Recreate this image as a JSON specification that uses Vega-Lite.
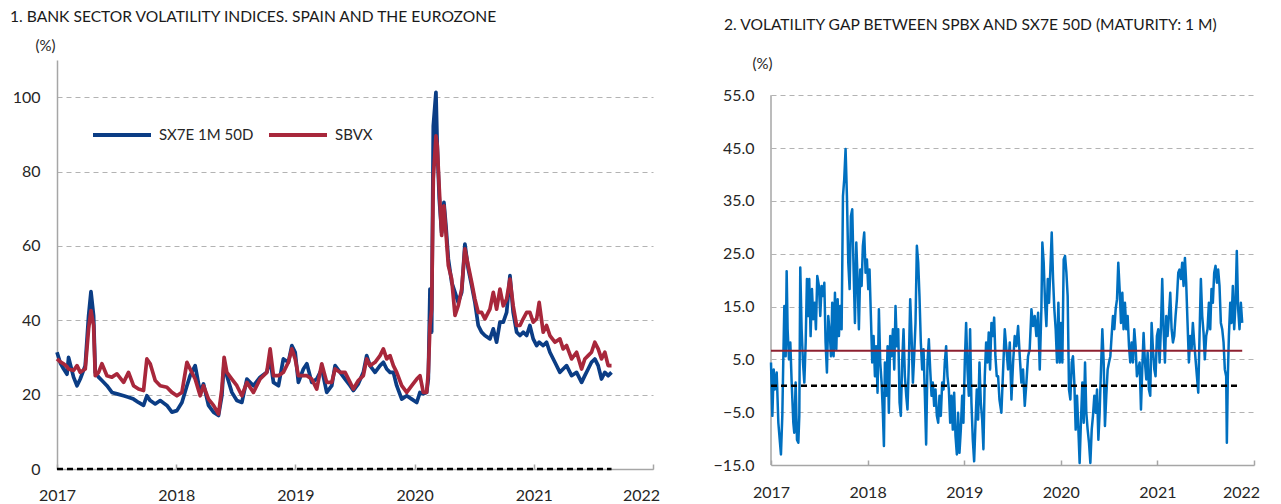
{
"$schema":"https://vega.github.io/schema/vega-lite/v6.json",
"background":"white",
"padding":{"left":10,"top":10,"right":5,"bottom":5},
"bounds":"flush",
"spacing":118,
"config":{
 "font":"Lato",
 "view":{"stroke":null},
 "axis":{"labelFont":"Lato","labelFontSize":16,"labelColor":"#262626","domainColor":"#a6a6a6","domainWidth":1.5,"tickColor":"#a6a6a6","tickWidth":1.5,"gridColor":"#b3b3b3","gridDash":[5,4],"gridWidth":1,"titleFont":"Lato","titleFontWeight":"normal","titleFontSize":15,"titleColor":"#262626"},
 "title":{"font":"Lato","fontSize":15.6,"fontWeight":"normal","color":"#1a1a1a","anchor":"start","frame":"group"}
},
"datasets":{
"idx":[
{"t":2017.000,"sx7e":31.4,"sbvx":29.6},{"t":2017.028,"sx7e":28.5,"sbvx":28.8},{"t":2017.056,"sx7e":26.9,"sbvx":28.3},{"t":2017.084,"sx7e":25.5,"sbvx":27.5},{"t":2017.097,"sx7e":30.0,"sbvx":26.9},{"t":2017.139,"sx7e":24.7,"sbvx":26.5},{"t":2017.168,"sx7e":22.4,"sbvx":27.8},{"t":2017.195,"sx7e":24.2,"sbvx":26.0},{"t":2017.237,"sx7e":27.8,"sbvx":26.9},{"t":2017.265,"sx7e":41.2,"sbvx":37.7},{"t":2017.285,"sx7e":47.7,"sbvx":42.6},{"t":2017.307,"sx7e":41.2,"sbvx":38.6},{"t":2017.321,"sx7e":26.0,"sbvx":25.1},{"t":2017.349,"sx7e":24.7,"sbvx":26.0},{"t":2017.377,"sx7e":23.8,"sbvx":28.3},{"t":2017.419,"sx7e":22.4,"sbvx":25.1},{"t":2017.461,"sx7e":20.6,"sbvx":24.7},{"t":2017.503,"sx7e":20.2,"sbvx":25.6},{"t":2017.559,"sx7e":19.7,"sbvx":23.3},{"t":2017.600,"sx7e":19.3,"sbvx":26.0},{"t":2017.642,"sx7e":18.8,"sbvx":22.4},{"t":2017.684,"sx7e":17.9,"sbvx":21.5},{"t":2017.726,"sx7e":17.1,"sbvx":21.1},{"t":2017.754,"sx7e":19.7,"sbvx":29.6},{"t":2017.782,"sx7e":18.4,"sbvx":28.3},{"t":2017.824,"sx7e":17.5,"sbvx":23.8},{"t":2017.866,"sx7e":18.4,"sbvx":22.4},{"t":2017.922,"sx7e":17.1,"sbvx":22.0},{"t":2017.964,"sx7e":15.3,"sbvx":20.6},{"t":2018.006,"sx7e":15.7,"sbvx":19.7},{"t":2018.048,"sx7e":17.9,"sbvx":20.6},{"t":2018.090,"sx7e":22.4,"sbvx":28.7},{"t":2018.117,"sx7e":25.1,"sbvx":26.9},{"t":2018.159,"sx7e":27.8,"sbvx":24.2},{"t":2018.201,"sx7e":20.6,"sbvx":19.7},{"t":2018.229,"sx7e":22.9,"sbvx":22.4},{"t":2018.271,"sx7e":17.1,"sbvx":18.8},{"t":2018.313,"sx7e":15.3,"sbvx":17.1},{"t":2018.355,"sx7e":14.4,"sbvx":14.8},{"t":2018.383,"sx7e":19.7,"sbvx":21.5},{"t":2018.402,"sx7e":28.7,"sbvx":30.0},{"t":2018.425,"sx7e":25.1,"sbvx":26.0},{"t":2018.467,"sx7e":20.6,"sbvx":24.2},{"t":2018.509,"sx7e":18.4,"sbvx":22.4},{"t":2018.551,"sx7e":17.9,"sbvx":19.7},{"t":2018.593,"sx7e":24.2,"sbvx":23.3},{"t":2018.648,"sx7e":22.4,"sbvx":20.6},{"t":2018.704,"sx7e":24.7,"sbvx":24.2},{"t":2018.760,"sx7e":26.0,"sbvx":26.0},{"t":2018.788,"sx7e":29.6,"sbvx":32.3},{"t":2018.816,"sx7e":23.3,"sbvx":25.1},{"t":2018.858,"sx7e":22.4,"sbvx":25.1},{"t":2018.899,"sx7e":29.6,"sbvx":26.0},{"t":2018.941,"sx7e":28.7,"sbvx":28.7},{"t":2018.970,"sx7e":33.2,"sbvx":32.3},{"t":2018.998,"sx7e":31.4,"sbvx":29.6},{"t":2019.025,"sx7e":23.3,"sbvx":25.1},{"t":2019.067,"sx7e":26.9,"sbvx":25.1},{"t":2019.096,"sx7e":28.3,"sbvx":25.1},{"t":2019.137,"sx7e":23.3,"sbvx":24.2},{"t":2019.179,"sx7e":24.2,"sbvx":21.5},{"t":2019.221,"sx7e":26.9,"sbvx":28.3},{"t":2019.263,"sx7e":20.6,"sbvx":23.3},{"t":2019.305,"sx7e":22.4,"sbvx":23.3},{"t":2019.333,"sx7e":27.8,"sbvx":26.9},{"t":2019.375,"sx7e":26.0,"sbvx":26.0},
{"t":2019.417,"sx7e":24.2,"sbvx":26.0},{"t":2019.459,"sx7e":22.4,"sbvx":23.3},{"t":2019.486,"sx7e":21.1,"sbvx":21.5},{"t":2019.528,"sx7e":22.9,"sbvx":23.8},{"t":2019.570,"sx7e":26.0,"sbvx":25.1},{"t":2019.598,"sx7e":30.5,"sbvx":29.6},{"t":2019.626,"sx7e":27.8,"sbvx":27.8},{"t":2019.668,"sx7e":26.0,"sbvx":28.7},{"t":2019.710,"sx7e":27.8,"sbvx":30.5},{"t":2019.738,"sx7e":28.7,"sbvx":32.3},{"t":2019.766,"sx7e":26.9,"sbvx":29.6},{"t":2019.794,"sx7e":26.0,"sbvx":30.5},{"t":2019.822,"sx7e":26.0,"sbvx":27.8},{"t":2019.850,"sx7e":22.4,"sbvx":26.0},{"t":2019.892,"sx7e":18.8,"sbvx":22.4},{"t":2019.934,"sx7e":19.7,"sbvx":20.6},{"t":2019.976,"sx7e":18.8,"sbvx":22.4},{"t":2020.018,"sx7e":17.9,"sbvx":24.2},{"t":2020.045,"sx7e":20.6,"sbvx":25.1},{"t":2020.073,"sx7e":20.2,"sbvx":20.6},{"t":2020.101,"sx7e":20.6,"sbvx":20.6},{"t":2020.115,"sx7e":24.2,"sbvx":26.0},{"t":2020.129,"sx7e":48.4,"sbvx":38.6},{"t":2020.143,"sx7e":36.8,"sbvx":43.0},{"t":2020.157,"sx7e":92.3,"sbvx":78.0},{"t":2020.179,"sx7e":101.3,"sbvx":89.6},{"t":2020.190,"sx7e":87.0,"sbvx":87.0},{"t":2020.207,"sx7e":72.6,"sbvx":75.3},{"t":2020.227,"sx7e":63.6,"sbvx":62.8},{"t":2020.246,"sx7e":71.7,"sbvx":70.8},{"t":2020.263,"sx7e":65.4,"sbvx":63.6},{"t":2020.283,"sx7e":56.5,"sbvx":54.7},{"t":2020.311,"sx7e":50.2,"sbvx":51.1},{"t":2020.339,"sx7e":47.5,"sbvx":41.3},{"t":2020.366,"sx7e":44.8,"sbvx":43.9},{"t":2020.395,"sx7e":47.5,"sbvx":48.4},{"t":2020.422,"sx7e":60.5,"sbvx":59.2},{"t":2020.450,"sx7e":53.8,"sbvx":54.7},{"t":2020.479,"sx7e":49.3,"sbvx":50.2},{"t":2020.506,"sx7e":44.8,"sbvx":45.7},{"t":2020.534,"sx7e":38.6,"sbvx":42.1},{"t":2020.562,"sx7e":36.8,"sbvx":42.1},{"t":2020.590,"sx7e":35.9,"sbvx":40.4},{"t":2020.632,"sx7e":35.0,"sbvx":43.0},{"t":2020.660,"sx7e":37.7,"sbvx":47.5},{"t":2020.688,"sx7e":34.1,"sbvx":43.0},{"t":2020.716,"sx7e":39.5,"sbvx":48.4},{"t":2020.744,"sx7e":39.5,"sbvx":43.9},{"t":2020.772,"sx7e":42.1,"sbvx":45.7},{"t":2020.800,"sx7e":52.0,"sbvx":51.1},{"t":2020.827,"sx7e":42.1,"sbvx":43.9},{"t":2020.856,"sx7e":36.8,"sbvx":38.6},{"t":2020.884,"sx7e":35.9,"sbvx":38.6},{"t":2020.911,"sx7e":36.8,"sbvx":40.4},{"t":2020.940,"sx7e":35.9,"sbvx":42.1},{"t":2020.967,"sx7e":38.6,"sbvx":42.1},{"t":2020.995,"sx7e":35.0,"sbvx":39.5},{"t":2021.024,"sx7e":33.2,"sbvx":40.4},{"t":2021.045,"sx7e":34.1,"sbvx":44.8},{"t":2021.079,"sx7e":33.2,"sbvx":36.8},{"t":2021.107,"sx7e":34.1,"sbvx":38.6},{"t":2021.135,"sx7e":31.4,"sbvx":35.9},{"t":2021.177,"sx7e":28.7,"sbvx":34.1},{"t":2021.219,"sx7e":26.0,"sbvx":35.0},{"t":2021.246,"sx7e":26.9,"sbvx":32.3},{"t":2021.275,"sx7e":27.8,"sbvx":33.2},{"t":2021.317,"sx7e":25.1,"sbvx":29.6},{"t":2021.359,"sx7e":26.0,"sbvx":31.4},{"t":2021.401,"sx7e":23.3,"sbvx":26.9},{"t":2021.428,"sx7e":25.1,"sbvx":29.6},{"t":2021.456,"sx7e":26.9,"sbvx":30.5},{"t":2021.484,"sx7e":28.7,"sbvx":31.4},{"t":2021.512,"sx7e":29.6,"sbvx":34.1},{"t":2021.540,"sx7e":27.8,"sbvx":32.3},{"t":2021.568,"sx7e":24.2,"sbvx":29.6},{"t":2021.596,"sx7e":26.0,"sbvx":31.4},{"t":2021.624,"sx7e":25.1,"sbvx":27.8},{"t":2021.652,"sx7e":26.0,"sbvx":27.8}
],
"gap":[
{"t":2017.000,"v":4.4},{"t":2017.014,"v":-5.7},{"t":2017.028,"v":3.1},{"t":2017.041,"v":-0.7},{"t":2017.059,"v":2.5},{"t":2017.076,"v":-7.0},{"t":2017.093,"v":-10.8},{"t":2017.103,"v":-13.0},{"t":2017.117,"v":-5.7},{"t":2017.128,"v":5.6},{"t":2017.138,"v":15.1},{"t":2017.152,"v":5.6},{"t":2017.162,"v":21.7},{"t":2017.172,"v":10.7},{"t":2017.186,"v":5.0},{"t":2017.200,"v":8.2},{"t":2017.214,"v":0.6},{"t":2017.231,"v":-7.0},{"t":2017.241,"v":-8.9},{"t":2017.255,"v":0.6},{"t":2017.269,"v":-10.2},{"t":2017.283,"v":-10.8},{"t":2017.293,"v":-5.7},{"t":2017.303,"v":22.4},{"t":2017.317,"v":10.7},{"t":2017.331,"v":4.4},{"t":2017.345,"v":0.6},{"t":2017.359,"v":8.2},{"t":2017.372,"v":20.2},{"t":2017.386,"v":13.2},{"t":2017.396,"v":20.2},{"t":2017.410,"v":9.4},{"t":2017.424,"v":18.3},{"t":2017.438,"v":12.6},{"t":2017.452,"v":15.7},{"t":2017.465,"v":10.7},{"t":2017.479,"v":20.8},{"t":2017.496,"v":18.9},{"t":2017.510,"v":13.2},{"t":2017.524,"v":18.9},{"t":2017.538,"v":17.0},{"t":2017.552,"v":19.5},{"t":2017.565,"v":8.2},{"t":2017.579,"v":2.5},{"t":2017.593,"v":13.2},{"t":2017.610,"v":9.4},{"t":2017.621,"v":5.6},{"t":2017.634,"v":15.7},{"t":2017.648,"v":5.6},{"t":2017.662,"v":17.6},{"t":2017.676,"v":6.9},{"t":2017.690,"v":16.4},{"t":2017.703,"v":9.4},{"t":2017.717,"v":15.1},{"t":2017.731,"v":10.7},{"t":2017.745,"v":35.9},{"t":2017.758,"v":39.1},{"t":2017.772,"v":44.8},{"t":2017.786,"v":35.9},{"t":2017.800,"v":23.3},{"t":2017.814,"v":18.3},{"t":2017.827,"v":32.1},{"t":2017.841,"v":33.4},{"t":2017.855,"v":22.0},{"t":2017.869,"v":11.9},{"t":2017.883,"v":27.1},{"t":2017.896,"v":20.2},{"t":2017.910,"v":10.7},{"t":2017.924,"v":22.0},{"t":2017.938,"v":18.9},{"t":2017.951,"v":26.5},{"t":2017.965,"v":29.0},{"t":2017.979,"v":21.4},{"t":2017.993,"v":23.9},{"t":2018.007,"v":18.3},{"t":2018.020,"v":22.0},{"t":2018.034,"v":13.2},{"t":2018.048,"v":4.4},{"t":2018.062,"v":9.4},{"t":2018.076,"v":1.8},{"t":2018.089,"v":7.5},{"t":2018.103,"v":-1.3},{"t":2018.117,"v":14.5},{"t":2018.131,"v":4.4},{"t":2018.145,"v":0.6},{"t":2018.158,"v":-5.1},{"t":2018.169,"v":-11.4},{"t":2018.179,"v":4.4},{"t":2018.193,"v":-1.9},{"t":2018.207,"v":7.5},{"t":2018.220,"v":-5.1},{"t":2018.234,"v":9.4},{"t":2018.248,"v":5.6},{"t":2018.262,"v":10.7},{"t":2018.276,"v":3.1},{"t":2018.289,"v":15.1},{"t":2018.303,"v":7.5},{"t":2018.317,"v":10.7},{"t":2018.331,"v":-3.2},{"t":2018.344,"v":-5.7},{"t":2018.358,"v":4.4},{"t":2018.372,"v":10.7},{"t":2018.386,"v":1.8},{"t":2018.400,"v":-1.9},{"t":2018.413,"v":-4.5},{"t":2018.427,"v":4.4},{"t":2018.441,"v":16.4},{"t":2018.455,"v":9.4},{"t":2018.469,"v":0.6},{"t":2018.482,"v":5.6},{"t":2018.496,"v":11.9},{"t":2018.510,"v":26.5},{"t":2018.524,"v":23.3},{"t":2018.537,"v":17.0},{"t":2018.551,"v":8.2},{"t":2018.565,"v":3.1},{"t":2018.579,"v":6.9},{"t":2018.593,"v":-1.9},{"t":2018.606,"v":-11.1},{"t":2018.620,"v":4.4},{"t":2018.634,"v":8.8},{"t":2018.648,"v":3.1},{"t":2018.662,"v":-1.9},{"t":2018.675,"v":0.6},{"t":2018.689,"v":-3.8},{"t":2018.703,"v":-0.7},{"t":2018.717,"v":-5.7},{"t":2018.731,"v":-7.0},{"t":2018.744,"v":-1.9},{"t":2018.758,"v":-5.7},{"t":2018.772,"v":0.6},{"t":2018.786,"v":-0.7},{"t":2018.799,"v":4.4},{"t":2018.813,"v":7.5},{"t":2018.827,"v":1.8},{"t":2018.841,"v":-0.7},{"t":2018.855,"v":-7.0},{"t":2018.868,"v":-1.9},{"t":2018.882,"v":-8.3},{"t":2018.896,"v":-1.3},{"t":2018.910,"v":-9.5},{"t":2018.924,"v":-13.0},{"t":2018.937,"v":-5.1},{"t":2018.951,"v":-12.7},{"t":2018.965,"v":-8.3},{"t":2018.979,"v":-1.9},{"t":2018.992,"v":-7.0},{"t":2019.006,"v":4.4},{"t":2019.020,"v":11.9},{"t":2019.034,"v":3.1},{"t":2019.048,"v":-1.9},{"t":2019.061,"v":10.7},{"t":2019.075,"v":-3.2},{"t":2019.089,"v":-10.2},{"t":2019.103,"v":-14.3},{"t":2019.117,"v":-7.0},{"t":2019.130,"v":-0.7},{"t":2019.144,"v":-6.4},{"t":2019.158,"v":4.4},{"t":2019.172,"v":-3.2},{"t":2019.186,"v":-6.4},{"t":2019.199,"v":-12.0},{"t":2019.213,"v":1.8},{"t":2019.227,"v":8.2},{"t":2019.241,"v":4.4},{"t":2019.254,"v":10.1},{"t":2019.268,"v":3.1},{"t":2019.282,"v":11.9},{"t":2019.296,"v":9.4},{"t":2019.310,"v":12.9},{"t":2019.323,"v":5.6},{"t":2019.337,"v":1.8},{"t":2019.351,"v":1.8},{"t":2019.365,"v":-2.6},
{"t":2019.385,"v":-5.1},{"t":2019.403,"v":3.1},{"t":2019.420,"v":10.7},{"t":2019.437,"v":6.9},{"t":2019.454,"v":3.1},{"t":2019.472,"v":8.2},{"t":2019.489,"v":-2.6},{"t":2019.506,"v":4.4},{"t":2019.523,"v":9.4},{"t":2019.540,"v":7.5},{"t":2019.558,"v":11.3},{"t":2019.575,"v":5.6},{"t":2019.592,"v":0.6},{"t":2019.609,"v":3.1},{"t":2019.627,"v":-3.8},{"t":2019.644,"v":0.6},{"t":2019.661,"v":5.6},{"t":2019.678,"v":6.9},{"t":2019.696,"v":14.5},{"t":2019.713,"v":11.3},{"t":2019.730,"v":13.2},{"t":2019.747,"v":9.4},{"t":2019.765,"v":13.8},{"t":2019.782,"v":3.1},{"t":2019.799,"v":14.5},{"t":2019.809,"v":27.1},{"t":2019.823,"v":23.3},{"t":2019.837,"v":15.7},{"t":2019.851,"v":11.3},{"t":2019.865,"v":20.2},{"t":2019.878,"v":15.7},{"t":2019.892,"v":22.0},{"t":2019.906,"v":29.0},{"t":2019.920,"v":20.2},{"t":2019.933,"v":14.5},{"t":2019.947,"v":10.7},{"t":2019.961,"v":4.4},{"t":2019.975,"v":15.7},{"t":2019.989,"v":4.4},{"t":2020.002,"v":11.9},{"t":2020.016,"v":4.4},{"t":2020.030,"v":23.9},{"t":2020.044,"v":24.6},{"t":2020.058,"v":21.4},{"t":2020.071,"v":17.0},{"t":2020.085,"v":-0.7},{"t":2020.099,"v":-2.6},{"t":2020.113,"v":4.4},{"t":2020.126,"v":5.6},{"t":2020.140,"v":0.6},{"t":2020.154,"v":-8.3},{"t":2020.168,"v":-1.9},{"t":2020.182,"v":-8.3},{"t":2020.195,"v":-14.6},{"t":2020.209,"v":-6.4},{"t":2020.223,"v":0.6},{"t":2020.237,"v":-7.0},{"t":2020.251,"v":4.4},{"t":2020.264,"v":-5.1},{"t":2020.278,"v":-8.3},{"t":2020.292,"v":-10.8},{"t":2020.306,"v":-14.6},{"t":2020.320,"v":-8.3},{"t":2020.333,"v":-5.7},{"t":2020.347,"v":-1.9},{"t":2020.361,"v":-5.1},{"t":2020.375,"v":-0.7},{"t":2020.389,"v":-10.2},{"t":2020.402,"v":-5.1},{"t":2020.416,"v":3.1},{"t":2020.430,"v":10.7},{"t":2020.444,"v":4.4},{"t":2020.457,"v":-7.6},{"t":2020.471,"v":-1.9},{"t":2020.485,"v":3.1},{"t":2020.499,"v":4.4},{"t":2020.513,"v":5.6},{"t":2020.526,"v":9.4},{"t":2020.540,"v":13.2},{"t":2020.554,"v":10.7},{"t":2020.568,"v":14.5},{"t":2020.582,"v":16.4},{"t":2020.595,"v":23.3},{"t":2020.609,"v":18.3},{"t":2020.623,"v":11.9},{"t":2020.637,"v":17.6},{"t":2020.650,"v":10.7},{"t":2020.664,"v":15.7},{"t":2020.678,"v":10.7},{"t":2020.692,"v":13.2},{"t":2020.706,"v":7.5},{"t":2020.719,"v":4.4},{"t":2020.733,"v":8.2},{"t":2020.747,"v":4.4},{"t":2020.761,"v":10.7},{"t":2020.774,"v":7.5},{"t":2020.788,"v":1.8},{"t":2020.802,"v":3.1},{"t":2020.816,"v":4.4},{"t":2020.830,"v":-4.5},{"t":2020.843,"v":3.1},{"t":2020.857,"v":10.0},{"t":2020.871,"v":4.4},{"t":2020.885,"v":1.2},{"t":2020.899,"v":6.3},{"t":2020.912,"v":-0.7},{"t":2020.926,"v":-1.9},{"t":2020.940,"v":11.9},{"t":2020.954,"v":6.9},{"t":2020.968,"v":3.1},{"t":2020.981,"v":1.8},{"t":2020.995,"v":9.4},{"t":2021.009,"v":10.7},{"t":2021.023,"v":4.4},{"t":2021.036,"v":10.7},{"t":2021.050,"v":20.2},{"t":2021.064,"v":10.7},{"t":2021.078,"v":4.4},{"t":2021.092,"v":13.2},{"t":2021.105,"v":9.4},{"t":2021.119,"v":13.2},{"t":2021.133,"v":17.6},{"t":2021.147,"v":10.7},{"t":2021.161,"v":8.2},{"t":2021.174,"v":9.4},{"t":2021.188,"v":13.2},{"t":2021.202,"v":16.4},{"t":2021.216,"v":21.4},{"t":2021.229,"v":22.0},{"t":2021.243,"v":20.2},{"t":2021.257,"v":23.3},{"t":2021.271,"v":18.9},{"t":2021.285,"v":24.2},{"t":2021.298,"v":19.5},{"t":2021.312,"v":11.9},{"t":2021.326,"v":4.4},{"t":2021.340,"v":9.4},{"t":2021.354,"v":6.9},{"t":2021.367,"v":11.9},{"t":2021.381,"v":8.2},{"t":2021.395,"v":5.0},{"t":2021.409,"v":1.8},{"t":2021.423,"v":-1.3},{"t":2021.436,"v":9.4},{"t":2021.450,"v":20.2},{"t":2021.464,"v":13.2},{"t":2021.478,"v":10.0},{"t":2021.491,"v":5.0},{"t":2021.505,"v":9.4},{"t":2021.519,"v":10.7},{"t":2021.533,"v":15.7},{"t":2021.547,"v":10.7},{"t":2021.560,"v":18.3},{"t":2021.574,"v":15.7},{"t":2021.588,"v":21.4},{"t":2021.602,"v":22.7},{"t":2021.616,"v":19.5},{"t":2021.629,"v":22.0},{"t":2021.643,"v":18.9},{"t":2021.657,"v":11.9},{"t":2021.671,"v":10.7},{"t":2021.685,"v":8.2},{"t":2021.698,"v":3.1},{"t":2021.712,"v":1.8},{"t":2021.719,"v":-10.8},{"t":2021.729,"v":1.8},{"t":2021.740,"v":9.4},{"t":2021.754,"v":15.7},{"t":2021.767,"v":11.9},{"t":2021.781,"v":18.9},{"t":2021.795,"v":10.7},{"t":2021.809,"v":15.7},{"t":2021.822,"v":25.5},{"t":2021.836,"v":14.5},{"t":2021.850,"v":10.7},{"t":2021.864,"v":15.7},{"t":2021.878,"v":11.9}
]
},
"hconcat":[
{
 "width":596,"height":409,
 "title":{"text":"1. BANK SECTOR VOLATILITY INDICES. SPAIN AND THE EUROZONE","dx":-47,"offset":12},
 "layer":[
  {"data":{"name":"idx"},
   "transform":[{"fold":["sx7e","sbvx"],"as":["series","value"]}],
   "mark":{"type":"line","strokeWidth":3.7,"strokeJoin":"round"},
   "encoding":{
    "x":{"field":"t","type":"quantitative","scale":{"domain":[2017,2022],"nice":false,"zero":false},
         "axis":{"values":[2017,2018,2019,2020,2021,2022],"format":"d","title":null,"grid":false,"tickSize":-5,"labelPadding":23,"labelFlush":false,"labelOverlap":false,
                 "labelOffset":{"condition":{"test":"datum.value == 2022","value":-12},"value":0}}},
    "y":{"field":"value","type":"quantitative","scale":{"domain":[0,110],"nice":false},
         "axis":{"values":[0,20,40,60,80,100],"ticks":false,"labelPadding":17,"grid":true,"title":"(%)","titleAngle":0,"titleX":-12,"titleY":-15,"titleAlign":"center","titleBaseline":"middle"}},
    "color":{"field":"series","type":"nominal","scale":{"domain":["sx7e","sbvx"],"range":["#0b3d85","#a8273b"]},
         "legend":{"title":null,"orient":"none","legendX":34,"legendY":44,"direction":"horizontal","symbolType":"stroke","symbolStrokeWidth":4,"symbolSize":3364,"labelFontSize":15,"labelFont":"Lato","labelColor":"#262626","columnPadding":7,"labelOffset":6,
                   "labelExpr":"datum.label == 'sx7e' ? 'SX7E 1M 50D' : 'SBVX'"}}
   }},
  {"data":{"values":[{"t":2017,"value":0},{"t":2021.652,"value":0}]},
   "mark":{"type":"line","color":"#000000","strokeWidth":2.5,"strokeDash":[6,4]},
   "encoding":{"x":{"field":"t","type":"quantitative"},"y":{"field":"value","type":"quantitative"}}}
 ]
},
{
 "width":483,"height":405,
 "title":{"text":"2. VOLATILITY GAP BETWEEN SPBX AND SX7E 50D (MATURITY: 1 M)","dx":-47,"offset":22},
 "layer":[
  {"data":{"values":[{"t":2017,"v":-15,"v2":55}]},
   "mark":{"type":"rule","color":"#a6a6a6","strokeWidth":1.5},
   "encoding":{"x":{"field":"t","type":"quantitative"},"y":{"field":"v","type":"quantitative"},"y2":{"field":"v2"}}},
  {"data":{"name":"gap"},
   "mark":{"type":"line","color":"#0070c0","strokeWidth":2.5,"strokeJoin":"round"},
   "encoding":{
    "x":{"field":"t","type":"quantitative","scale":{"domain":[2017,2022],"nice":false,"zero":false},
         "axis":{"values":[2017,2018,2019,2020,2021,2022],"format":"d","title":null,"grid":false,"tickSize":-5,"labelPadding":24,"labelFlush":false,"labelOverlap":false,
                 "labelOffset":{"condition":{"test":"datum.value == 2022","value":-13},"value":0}}},
    "y":{"field":"v","type":"quantitative","scale":{"domain":[-15,61.67],"nice":false,"zero":false},
         "axis":{"values":[-15,-5,5,15,25,35,45,55],"format":".1f","domain":false,"ticks":false,"labelPadding":17,"grid":true,"title":"(%)","titleAngle":0,"titleX":-9,"titleY":3,"titleAlign":"center","titleBaseline":"middle"}}
   }},
  {"data":{"values":[{"t":2017,"v":0},{"t":2021.85,"v":0}]},
   "mark":{"type":"line","color":"#000000","strokeWidth":2.5,"strokeDash":[6,4]},
   "encoding":{"x":{"field":"t","type":"quantitative"},"y":{"field":"v","type":"quantitative"}}},
  {"data":{"values":[{"t":2017,"v":6.65},{"t":2021.878,"v":6.65}]},
   "mark":{"type":"line","color":"#8e2030","strokeWidth":2},
   "encoding":{"x":{"field":"t","type":"quantitative"},"y":{"field":"v","type":"quantitative"}}}
 ]
}
]
}
